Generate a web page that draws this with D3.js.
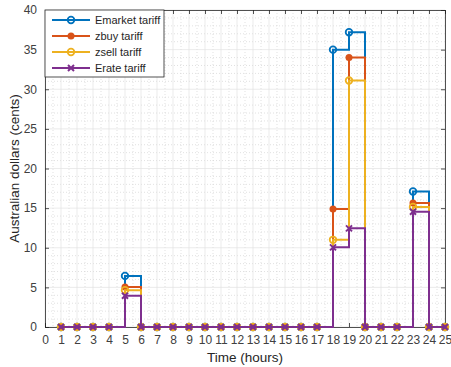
<!DOCTYPE html>
<html><head><meta charset="utf-8">
<script src="https://cdn.jsdelivr.net/npm/d3@7"></script>
<style>body{margin:0;background:#fff}svg{display:block}text{font-family:"Liberation Sans",Arial,sans-serif;fill:#262626}</style>
</head><body>
<svg id="c" width="451" height="367"></svg>
<script>
const hours = d3.range(1, 26);
const emarket = [0,0,0,0,6.45,0,0,0,0,0,0,0,0,0,0,0,0,35,37.2,0,0,0,17.1,0,0];
const zbuy    = [0,0,0,0,5.05,0,0,0,0,0,0,0,0,0,0,0,0,14.9,34.0,0,0,0,15.65,0,0];
const zsell   = [0,0,0,0,4.65,0,0,0,0,0,0,0,0,0,0,0,0,11.0,31.1,0,0,0,15.15,0,0];
const erate   = [0,0,0,0,3.95,0,0,0,0,0,0,0,0,0,0,0,0,10.05,12.45,0,0,0,14.55,0,0];
const seriesNames = ["Emarket tariff","zbuy tariff","zsell tariff","Erate tariff"];
const seriesColors = ["#0072BD","#D95319","#EDB120","#7E2F8E"];
const seriesMarkers = ["circle","dot","circle","cross"];
const seriesData = [emarket, zbuy, zsell, erate];
const xTicks = d3.range(0, 26);
const yTicks = [0,5,10,15,20,25,30,35,40];

const svg = d3.select("#c");
const L=45, R=445, T=10, B=327;
const x = d3.scaleLinear().domain([0,25]).range([L,R]);
const y = d3.scaleLinear().domain([0,40]).range([B,T]);

// grid
const g = svg.append("g");
d3.range(0,25.01,0.5).forEach(v=>{ if(v%1!==0) g.append("line").attr("x1",x(v)).attr("x2",x(v)).attr("y1",T).attr("y2",B).attr("stroke","#d4d4d4").attr("stroke-width",0.7).attr("stroke-dasharray","1,2");});
d3.range(0,41,1).forEach(v=>{ if(v%5!==0) g.append("line").attr("y1",y(v)).attr("y2",y(v)).attr("x1",L).attr("x2",R).attr("stroke","#d4d4d4").attr("stroke-width",0.7).attr("stroke-dasharray","1,2");});
xTicks.forEach(v=>g.append("line").attr("x1",x(v)).attr("x2",x(v)).attr("y1",T).attr("y2",B).attr("stroke","#e3e3e3").attr("stroke-width",0.7));
yTicks.forEach(v=>g.append("line").attr("y1",y(v)).attr("y2",y(v)).attr("x1",L).attr("x2",R).attr("stroke","#e3e3e3").attr("stroke-width",0.7));

// axes
const ax = svg.append("g");
const xb = d3.axisBottom(x).tickValues(xTicks).tickSize(-4).tickPadding(8).tickFormat(d3.format("d"));
const xt = d3.axisTop(x).tickValues(xTicks).tickSize(-4).tickFormat("");
const yl = d3.axisLeft(y).tickValues(yTicks).tickSize(-4).tickPadding(8).tickFormat(d3.format("d"));
const yr = d3.axisRight(y).tickValues(yTicks).tickSize(-4).tickFormat("");
[[xb,`translate(0,${B})`],[xt,`translate(0,${T})`],[yl,`translate(${L},0)`],[yr,`translate(${R},0)`]].forEach(([a,t])=>{
  const s = ax.append("g").attr("transform",t).call(a);
  s.select(".domain").attr("stroke","#262626").attr("stroke-width",0.8);
  s.selectAll(".tick line").attr("stroke","#262626").attr("stroke-width",0.8);
  s.selectAll("text").style("font-size","12px").style("fill","#404040");
});

// series
const line = d3.line().x((d,i)=>x(hours[i])).y(d=>y(d)).curve(d3.curveStepAfter);
function marker(sel, type, color, cx, cy){
  if(type==="circle") sel.append("circle").attr("cx",cx).attr("cy",cy).attr("r",3.3).attr("fill","none").attr("stroke",color).attr("stroke-width",1.8);
  else if(type==="dot") sel.append("circle").attr("cx",cx).attr("cy",cy).attr("r",3.5).attr("fill",color);
  else { const s=3; sel.append("path").attr("d",`M${cx-s},${cy-s}L${cx+s},${cy+s}M${cx-s},${cy+s}L${cx+s},${cy-s}`).attr("stroke",color).attr("stroke-width",2); }
}
seriesData.forEach((data,k)=>{
  const gs = svg.append("g");
  gs.append("path").attr("d",line(data)).attr("fill","none").attr("stroke",seriesColors[k]).attr("stroke-width",2);
  data.forEach((v,i)=>marker(gs, seriesMarkers[k], seriesColors[k], x(hours[i]), y(v)));
});

// labels
svg.append("text").attr("x",x(12.5)).attr("y",362).attr("text-anchor","middle").style("font-size","13.5px").style("fill","#262626").text("Time (hours)");
svg.append("text").attr("transform",`translate(19,${(T+B)/2}) rotate(-90)`).attr("text-anchor","middle").style("font-size","13.5px").style("fill","#262626").text("Australian dollars (cents)");

// legend
const lg = svg.append("g");
lg.append("rect").attr("x",L).attr("y",T).attr("width",119).attr("height",67).attr("fill","#fff").attr("stroke","#262626").attr("stroke-width",0.8);
seriesNames.forEach((n,k)=>{
  const yy = 20 + k*16;
  lg.append("line").attr("x1",52).attr("x2",90).attr("y1",yy).attr("y2",yy).attr("stroke",seriesColors[k]).attr("stroke-width",2);
  marker(lg, seriesMarkers[k], seriesColors[k], 71, yy);
  lg.append("text").attr("x",95).attr("y",yy+4).style("font-size","11px").text(n);
});
</script>
</body></html>
